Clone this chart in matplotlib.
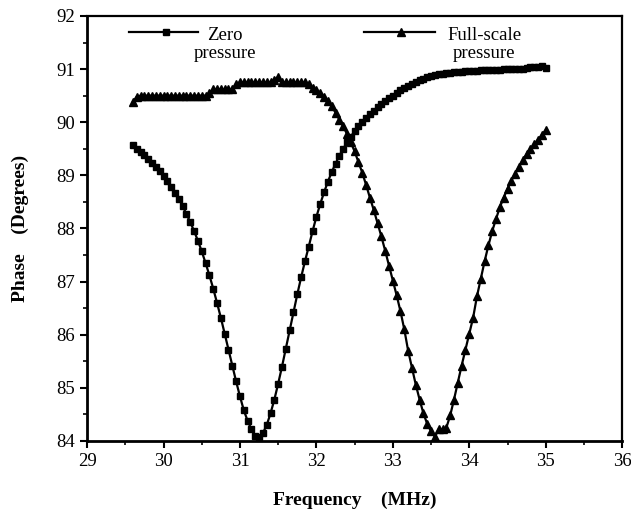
import matplotlib
matplotlib.use("Agg")
import matplotlib.pyplot as plt
from matplotlib.lines import Line2D
from matplotlib.ticker import MultipleLocator

plt.rcParams['font.family'] = ['Liberation Serif', 'DejaVu Serif']

freq = [29.60, 29.65, 29.70, 29.75, 29.80, 29.85, 29.90, 29.95, 30.00, 30.05,
        30.10, 30.15, 30.20, 30.25, 30.30, 30.35, 30.40, 30.45, 30.50, 30.55,
        30.60, 30.65, 30.70, 30.75, 30.80, 30.85, 30.90, 30.95, 31.00, 31.05,
        31.10, 31.15, 31.20, 31.25, 31.30, 31.35, 31.40, 31.45, 31.50, 31.55,
        31.60, 31.65, 31.70, 31.75, 31.80, 31.85, 31.90, 31.95, 32.00, 32.05,
        32.10, 32.15, 32.20, 32.25, 32.30, 32.35, 32.40, 32.45, 32.50, 32.55,
        32.60, 32.65, 32.70, 32.75, 32.80, 32.85, 32.90, 32.95, 33.00, 33.05,
        33.10, 33.15, 33.20, 33.25, 33.30, 33.35, 33.40, 33.45, 33.50, 33.55,
        33.60, 33.65, 33.70, 33.75, 33.80, 33.85, 33.90, 33.95, 34.00, 34.05,
        34.10, 34.15, 34.20, 34.25, 34.30, 34.35, 34.40, 34.45, 34.50, 34.55,
        34.60, 34.65, 34.70, 34.75, 34.80, 34.85, 34.90, 34.95, 35.00]

zero_pressure = [89.57, 89.50, 89.44, 89.38, 89.31, 89.24, 89.16, 89.08, 88.99, 88.90,
                 88.78, 88.67, 88.56, 88.42, 88.27, 88.12, 87.95, 87.77, 87.57, 87.35,
                 87.12, 86.87, 86.60, 86.32, 86.02, 85.72, 85.42, 85.12, 84.84, 84.58,
                 84.38, 84.22, 84.10, 84.08, 84.15, 84.30, 84.52, 84.78, 85.08, 85.40,
                 85.74, 86.08, 86.42, 86.76, 87.08, 87.38, 87.66, 87.95, 88.22, 88.46,
                 88.68, 88.88, 89.06, 89.22, 89.37, 89.50, 89.62, 89.73, 89.83, 89.92,
                 90.00, 90.08, 90.15, 90.22, 90.29, 90.35, 90.40, 90.45, 90.50, 90.55,
                 90.60, 90.64, 90.68, 90.72, 90.76, 90.79, 90.82, 90.85, 90.87, 90.89,
                 90.90, 90.91, 90.92, 90.93, 90.94, 90.95, 90.95, 90.96, 90.96, 90.97,
                 90.97, 90.98, 90.98, 90.98, 90.99, 90.99, 90.99, 91.00, 91.00, 91.00,
                 91.01, 91.01, 91.01, 91.02, 91.03, 91.03, 91.04, 91.06, 91.02]

full_scale = [90.38, 90.48, 90.50, 90.50, 90.50, 90.50, 90.50, 90.50, 90.50, 90.50,
              90.50, 90.50, 90.50, 90.50, 90.50, 90.50, 90.50, 90.50, 90.50, 90.50,
              90.55, 90.62, 90.62, 90.62, 90.62, 90.62, 90.62, 90.72, 90.75, 90.75,
              90.75, 90.75, 90.75, 90.75, 90.75, 90.75, 90.75, 90.80, 90.85, 90.75,
              90.75, 90.75, 90.75, 90.75, 90.75, 90.75, 90.72, 90.65, 90.60, 90.55,
              90.48, 90.40, 90.30, 90.18, 90.05, 89.92, 89.78, 89.62, 89.45, 89.25,
              89.05, 88.82, 88.58, 88.35, 88.10, 87.85, 87.58, 87.30, 87.02, 86.74,
              86.44, 86.10, 85.70, 85.38, 85.06, 84.78, 84.52, 84.32, 84.18, 84.08,
              84.22, 84.22, 84.25, 84.48, 84.78, 85.10, 85.42, 85.72, 86.02, 86.32,
              86.72, 87.05, 87.38, 87.68, 87.95, 88.18, 88.40, 88.58, 88.75, 88.90,
              89.03, 89.16, 89.28, 89.40, 89.50, 89.59, 89.67, 89.76, 89.85]

xticks = [29, 30, 31, 32, 33, 34, 35, 36]
yticks = [84, 85, 86, 87, 88, 89, 90, 91, 92]

fig = plt.figure(figsize=(6.31, 5.15), dpi=100)
ax = fig.add_axes([0.138, 0.1437, 0.848, 0.8253])

ax.plot(freq, zero_pressure, color='black', lw=1.6, marker='s', ms=4.3,
        mec='black', mfc='black')
ax.plot(freq, full_scale, color='black', lw=1.6, marker='^', ms=6.3,
        mec='black', mfc='black')

ax.set_xlim(29, 36)
ax.set_ylim(84, 92)
ax.set_xticks(xticks)
ax.set_yticks(yticks)
ax.xaxis.set_minor_locator(MultipleLocator(0.5))
ax.yaxis.set_minor_locator(MultipleLocator(0.5))
ax.tick_params(axis='both', which='major', direction='out', length=5, width=1.5,
               labelsize=13.5, top=False, right=False)
ax.tick_params(axis='both', which='minor', direction='out', length=3, width=1.2,
               top=False, right=False)
for s in ['left', 'bottom']:
    ax.spines[s].set_linewidth(2.0)
for s in ['top', 'right']:
    ax.spines[s].set_linewidth(1.6)

ax.set_xlabel('Frequency    (MHz)', fontsize=14, fontweight='bold', labelpad=16)
ax.set_ylabel('Phase    (Degrees)', fontsize=14, fontweight='bold', labelpad=20)

# custom legend
leg_y = 0.962
ax.add_line(Line2D([0.079, 0.208], [leg_y, leg_y], transform=ax.transAxes,
                   color='black', lw=1.6))
ax.add_line(Line2D([0.148], [leg_y], transform=ax.transAxes, color='black',
                   marker='s', ms=4.3))
ax.text(0.257, leg_y + 0.012, 'Zero\npressure', transform=ax.transAxes,
        ha='center', va='top', fontsize=13.5, linespacing=1.05)

ax.add_line(Line2D([0.518, 0.650], [leg_y, leg_y], transform=ax.transAxes,
                   color='black', lw=1.6))
ax.add_line(Line2D([0.586], [leg_y], transform=ax.transAxes, color='black',
                   marker='^', ms=6.3))
ax.text(0.742, leg_y + 0.012, 'Full-scale\npressure', transform=ax.transAxes,
        ha='center', va='top', fontsize=13.5, linespacing=1.05)

fig.savefig('out.png', dpi=100)
